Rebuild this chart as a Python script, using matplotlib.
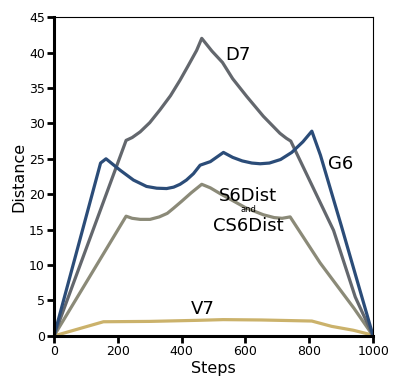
import matplotlib
matplotlib.use("Agg")
import matplotlib.pyplot as plt

# Data
d7_x = [0, 226, 245, 270, 300, 332, 365, 395, 420, 447, 463, 495, 528, 560, 604, 656, 708, 728, 742, 876, 944, 1000]
d7_y = [0, 27.6, 28.0, 28.8, 30.1, 31.9, 33.9, 36.1, 38.1, 40.3, 42.0, 40.2, 38.6, 36.3, 33.8, 31.0, 28.6, 27.9, 27.5, 14.9, 5.5, 0]

g6_x = [0, 146, 163, 185, 207, 249, 290, 322, 353, 375, 395, 415, 437, 458, 490, 531, 560, 590, 620, 646, 675, 710, 745, 780, 808, 835, 900, 1000]
g6_y = [0, 24.4, 25.0, 24.2, 23.4, 22.0, 21.1, 20.85, 20.8, 21.0, 21.4, 22.0, 22.9, 24.1, 24.6, 25.9, 25.2, 24.7, 24.4, 24.3, 24.4, 24.9, 25.9, 27.4, 28.9, 25.5, 15.6, 0]

s6_x = [0, 226, 245, 270, 301, 330, 355, 374, 400, 430, 463, 490, 520, 560, 600, 656, 690, 715, 740, 834, 940, 1000]
s6_y = [0, 16.9, 16.6, 16.45, 16.45, 16.8, 17.3, 18.0, 19.0, 20.2, 21.4, 20.9, 20.1, 19.1, 18.1, 17.1, 16.7, 16.6, 16.8, 10.3, 3.9, 0]

v7_x = [0, 155, 300, 450, 530, 650, 808, 870, 938, 1000]
v7_y = [0, 2.0, 2.05, 2.2, 2.3, 2.25, 2.1, 1.35, 0.8, 0.1]

x_ticks = [0, 200, 400, 600, 800, 1000]
y_ticks = [0, 5, 10, 15, 20, 25, 30, 35, 40, 45]

c_d7 = "#63676d"
c_g6 = "#2b4c78"
c_s6 = "#8b8a78"
c_v7 = "#cbb26b"

plt.rcParams['font.family'] = ['DejaVu Sans']
fig = plt.figure(figsize=(3.94, 3.80), dpi=100)
ax = fig.add_axes([0.137, 0.116, 0.810, 0.839])

lw = 2.3
kw = dict(lw=lw, solid_joinstyle='round', solid_capstyle='round')
ax.plot(v7_x, v7_y, color=c_v7, **kw)
ax.plot(s6_x, s6_y, color=c_s6, **kw)
ax.plot(d7_x, d7_y, color=c_d7, **kw)
ax.plot(g6_x, g6_y, color=c_g6, **kw)

ax.set_xlim(0, 1000)
ax.set_ylim(0, 45)
ax.set_xticks(x_ticks)
ax.set_yticks(y_ticks)
ax.tick_params(axis='both', direction='out', length=5, width=2, labelsize=9, pad=1.5)
for s in ['left', 'bottom']:
    ax.spines[s].set_linewidth(2.2)
for s in ['top', 'right']:
    ax.spines[s].set_linewidth(0.8)

ax.set_xlabel("Steps", fontsize=11.5, labelpad=2)
ax.set_ylabel("Distance", fontsize=11.5, labelpad=2)

fs = 13
ax.text(536, 39.6, "D7", fontsize=fs, ha='left', va='center')
ax.text(859, 24.3, "G6", fontsize=fs, ha='left', va='center')
ax.text(608, 19.7, "S6Dist", fontsize=fs, ha='center', va='center')
ax.text(608, 17.8, "and", fontsize=6, ha='center', va='center')
ax.text(608, 15.5, "CS6Dist", fontsize=fs, ha='center', va='center')
ax.text(467, 3.8, "V7", fontsize=fs, ha='center', va='center')

fig.savefig("out.png", dpi=100)
